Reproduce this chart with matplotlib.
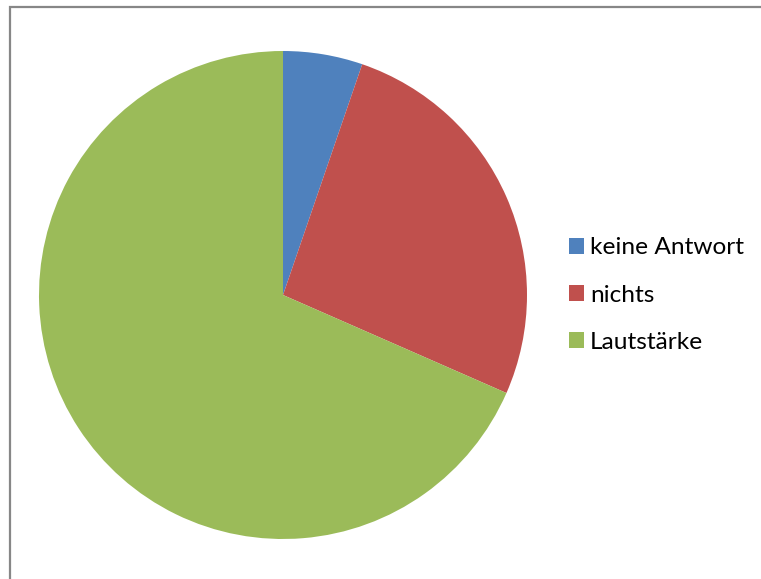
import matplotlib
matplotlib.use("Agg")
import matplotlib.pyplot as plt
from matplotlib.patches import Rectangle

labels = ["keine Antwort", "nichts", "Lautstärke"]
values = [1, 5, 13]
colors = ["#4F81BD", "#C0504D", "#9BBB59"]

W, H = 761, 579
fig = plt.figure(figsize=(W / 100, H / 100), dpi=100)
fig.patch.set_facecolor("white")

# chart frame (left and top edges visible)
frame = Rectangle((9.5 / W, -0.05), 1.2, 1 - 6.5 / H + 0.05, transform=fig.transFigure,
                  fill=False, edgecolor="#878787", linewidth=1.6, clip_on=False)
fig.patches.append(frame)

cx, cy, r = 283, 295, 244
ax = fig.add_axes([(cx - r) / W, (H - cy - r) / H, 2 * r / W, 2 * r / H])
wedges, _ = ax.pie(values, colors=colors, startangle=90, counterclock=False,
                   radius=1, wedgeprops=dict(linewidth=0))
ax.set_xlim(-1, 1)
ax.set_ylim(-1, 1)
ax.set_aspect("equal")
ax.axis("off")

fs = 17.6
fpx = fs * 100 / 72
leg = fig.legend(wedges, labels, loc="center left",
                 bbox_to_anchor=(569 / W, 1 - 295 / H), frameon=False,
                 prop={"family": "Lato", "size": fs},
                 handlelength=15 / fpx, handleheight=15 / fpx, handletextpad=6 / fpx,
                 labelspacing=1.07, borderaxespad=0, borderpad=0)

fig.savefig("out.png", dpi=100)
